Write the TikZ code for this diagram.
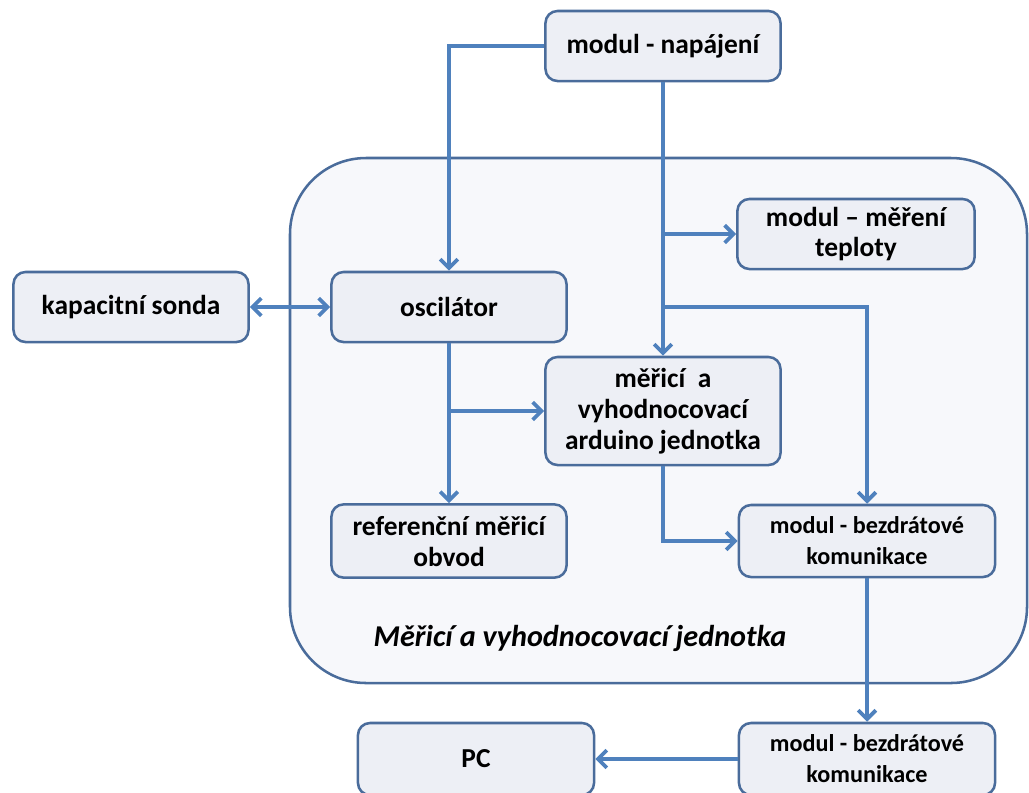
\documentclass[tikz,border=0pt]{standalone}
\usepackage{fontspec}
\setmainfont{Carlito}
\usepackage{tikz}
\usepackage{xcolor}
\usetikzlibrary{arrows.meta}
\usetikzlibrary{positioning}
\definecolor{linka}{HTML}{4F81BD}
\definecolor{okraj}{HTML}{4A6C9B}
\definecolor{vypln}{HTML}{EDEFF5}
\definecolor{pozadi}{HTML}{F7F8FB}

\begin{document}
\begin{tikzpicture}[x=0.025cm, y=-0.025cm,
        box/.style={draw=okraj, line width=1.8pt, fill=vypln, rounded corners=0.3cm, align=center,
            font=\fontsize{19.5}{22}\selectfont\bfseries, minimum width=5.875cm, minimum height=1.75cm},
        malybox/.style={box, font=\fontsize{17.2}{22}\selectfont\bfseries, minimum width=6.4cm, minimum height=1.8cm},
        spoj/.style={draw=linka, line width=2.7pt, -{Straight Barb[length=2.2mm, width=4.4mm]}}]
        \useasboundingbox (0,0) rectangle (1029,792);
        % velky blok
        \draw[draw=okraj, line width=1.8pt, fill=pozadi, rounded corners=1.9cm] (290,158) rectangle (1027,683);
        \node[font=\fontsize{21.5}{24}\selectfont\bfseries\itshape] (nazev) at (580,638) {Měřicí a vyhodnocovací jednotka};
        % bloky
        \node[box] (napajeni) at (663,46) {modul - napájení};
        \node[box, minimum width=5.93cm] (teplota) at (856,234) {modul – měření\\teploty};
        \node[box] (sonda) at (131,307) {kapacitní sonda};
        \node[box] (osc) at (449,307) {oscilátor};
        \node[box, minimum height=2.7cm] (arduino) at (663,411) {měřicí~ a\\vyhodnocovací\\arduino jednotka};
        \node[box, minimum height=1.83cm] (ref) at (449,541) {referenční měřicí\\obvod};
        \node[malybox] (bezdr) at (867,541) {modul - bezdrátové\\komunikace};
        \node[malybox] (bezdr2) at (867,759) {modul - bezdrátové\\komunikace};
        \node[box, minimum width=5.9cm, minimum height=1.8cm] (pc) at (476,759) {PC};
        % spoje
        \draw[spoj] (napajeni.west) -| (osc.north);
        \draw[spoj] (napajeni.south) -- (arduino.north);
        \draw[spoj] (napajeni.south |- teplota.west) -- (teplota.west); % odbocka na teplotu
        \draw[spoj] (napajeni.south |- osc.east) -| (bezdr.north);
        \draw[spoj, {Straight Barb[length=2.2mm, width=4.4mm]}-{Straight Barb[length=2.2mm, width=4.4mm]}] (sonda) -- (osc);
        \draw[spoj] (osc.south) -- (ref.north);
        \draw[spoj] (osc.south |- arduino.west) -- (arduino.west);
        \draw[spoj] (arduino.south) |- (bezdr.west);
        \draw[spoj] (bezdr.south) -- (bezdr2.north);
        \draw[spoj] (bezdr2.west) -- (pc.east);
    \end{tikzpicture}
\end{document}
